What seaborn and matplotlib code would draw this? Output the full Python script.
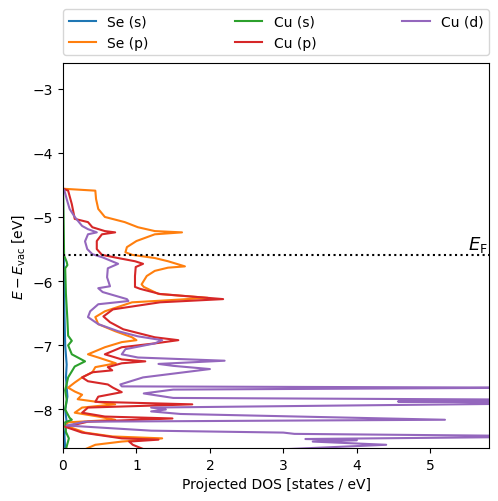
import matplotlib
matplotlib.use('Agg')
import matplotlib.pyplot as plt
import seaborn as sns
import numpy as np
import pandas as pd

# energies (eV vs vacuum) and projected DOS for each orbital
se_s_E = [-4.56, -5.5, -5.6, -6.0, -6.5, -7.0, -7.3, -7.5, -7.8, -8.0, -8.2, -8.4, -8.62]
se_s_dos = [0.0, 0.0, 0.01, 0.015, 0.02, 0.03, 0.05, 0.04, 0.06, 0.03, 0.05, 0.02, 0.03]

se_p_E = [-4.56, -4.59, -4.72, -4.875, -5.0, -5.08, -5.16, -5.22, -5.24, -5.27, -5.375,
          -5.47, -5.55, -5.59, -5.64, -5.69, -5.77, -5.79, -5.84, -5.92, -6.05, -6.09,
          -6.2, -6.26, -6.30, -6.33, -6.47, -6.56, -6.67, -6.78, -6.875, -6.92, -6.95,
          -7.03, -7.14, -7.19, -7.28, -7.34, -7.42, -7.5, -7.58, -7.66, -7.72, -7.77,
          -7.84, -7.92, -7.97, -8.05, -8.11, -8.16, -8.20, -8.25, -8.36, -8.42, -8.45,
          -8.5, -8.55, -8.62]
se_p_dos = [0.0, 0.44, 0.45, 0.48, 0.57, 0.84, 1.02, 1.25, 1.62, 1.25, 1.0,
            0.87, 0.85, 0.94, 1.25, 1.43, 1.66, 1.43, 1.25, 1.14, 1.07, 1.1,
            1.3, 1.97, 1.4, 0.94, 0.57, 0.44, 0.48, 0.71, 0.94, 1.0, 0.80,
            0.57, 0.34, 0.48, 0.72, 0.44, 0.40, 0.26, 0.16, 0.07, 0.16, 0.26,
            0.2, 0.71, 0.26, 0.16, 0.48, 0.71, 0.07, 0.03, 0.30, 0.67, 1.35,
            0.80, 0.44, 0.30]

cu_s_E = [-4.56, -4.8, -5.2, -5.6, -5.7, -5.75, -5.8, -6.2, -6.6, -6.85, -6.93, -7.0,
          -7.14, -7.25, -7.33, -7.5, -7.7, -7.85, -8.0, -8.13, -8.16, -8.2, -8.35,
          -8.45, -8.62]
cu_s_dos = [0.0, 0.005, 0.01, 0.015, 0.05, 0.06, 0.03, 0.04, 0.06, 0.07, 0.12, 0.07,
            0.12, 0.3, 0.16, 0.07, 0.03, 0.05, 0.03, 0.09, 0.12, 0.03, 0.04,
            0.08, 0.04]

cu_p_E = [-4.56, -4.59, -4.80, -5.03, -5.08, -5.16, -5.22, -5.24, -5.27, -5.375, -5.5,
          -5.59, -5.64, -5.69, -5.73, -5.78, -5.92, -6.09, -6.12, -6.2, -6.28, -6.33,
          -6.44, -6.55, -6.64, -6.75, -6.875, -6.92, -6.97, -7.03, -7.14, -7.22, -7.25,
          -7.28, -7.34, -7.39, -7.42, -7.5, -7.56, -7.61, -7.66, -7.73, -7.80, -7.88,
          -7.92, -7.97, -8.05, -8.11, -8.14, -8.19, -8.27, -8.36, -8.45, -8.47, -8.5,
          -8.55, -8.62]
cu_p_dos = [0.0, 0.07, 0.12, 0.16, 0.34, 0.40, 0.57, 0.71, 0.53, 0.46, 0.46,
            0.53, 0.75, 0.98, 1.09, 0.99, 0.98, 0.98, 1.05, 1.32, 2.18, 1.32,
            0.68, 0.55, 0.64, 0.82, 1.25, 1.57, 1.25, 0.80, 0.57, 0.80, 1.12,
            0.80, 0.61, 0.67, 0.40, 0.26, 0.34, 0.61, 0.68, 0.80, 0.48, 0.44,
            1.76, 0.34, 0.26, 0.57, 1.49, 0.34, 0.03, 0.26, 0.80, 1.3, 0.9,
            0.95, 1.1]

cu_d_E = [-4.56, -4.59, -4.72, -4.875, -5.0, -5.14, -5.19, -5.24, -5.27, -5.38, -5.5,
          -5.58, -5.63, -5.73, -5.8, -5.94, -6.08, -6.11, -6.17, -6.28, -6.31, -6.36,
          -6.47, -6.56, -6.67, -6.78, -6.86, -6.92, -6.97, -7.06, -7.14, -7.19, -7.24,
          -7.29, -7.32, -7.37, -7.5, -7.61, -7.64, -7.66, -7.69, -7.75, -7.82, -7.85,
          -7.875, -7.90, -7.97, -8.0, -8.03, -8.07, -8.16, -8.19, -8.25, -8.33, -8.36,
          -8.38, -8.42, -8.46, -8.48, -8.50, -8.55, -8.62]
cu_d_dos = [0.0, 0.02, 0.05, 0.09, 0.16, 0.26, 0.34, 0.46, 0.34, 0.30, 0.33,
            0.40, 0.54, 0.75, 0.61, 0.60, 0.64, 0.48, 0.54, 0.87, 0.89, 0.48,
            0.37, 0.34, 0.48, 0.75, 1.02, 1.35, 1.25, 0.85, 0.80, 1.02, 2.2,
            1.3, 1.5, 2.0, 1.09, 0.78, 0.8, 6.5, 1.5, 1.1, 1.5, 7.0,
            4.56, 7.0, 1.2, 1.4, 1.2, 1.6, 5.2, 0.3, 0.05, 1.2, 3.0,
            3.15, 7.0, 3.3, 4.0, 3.4, 4.4, 3.0]

labels = ['Se (s)', 'Se (p)', 'Cu (s)', 'Cu (p)', 'Cu (d)']
e_fermi = -5.59

curves = [(se_s_E, se_s_dos), (se_p_E, se_p_dos), (cu_s_E, cu_s_dos),
          (cu_p_E, cu_p_dos), (cu_d_E, cu_d_dos)]
colors = sns.color_palette('tab10', 5)

fig = plt.figure(figsize=(4.98, 5.02), dpi=100)
ax = fig.add_axes([0.1265, 0.1056, 0.8555, 0.767])

for (E, dos), lab, c in zip(curves, labels, colors):
    df = pd.DataFrame({'E': E, 'dos': dos})
    sns.lineplot(data=df, x='dos', y='E', sort=False, estimator=None,
                 color=c, label=lab, ax=ax, lw=1.5)

ax.axhline(e_fermi, color='k', ls=':', lw=1.5)
ax.text(5.78, e_fermi + 0.02, r'$E_\mathrm{F}$', ha='right', va='bottom', fontsize=13)

ax.set_xlim(0, 5.8)
ax.set_ylim(-8.6, -2.6)
ax.set_xlabel('Projected DOS [states / eV]')
ax.set_ylabel(r'$E - E_\mathrm{vac}$ [eV]')
ax.legend(bbox_to_anchor=(0, 1.02, 1, 0.2), loc='lower left', mode='expand',
          ncol=3, borderaxespad=0)

fig.savefig('out.png', dpi=100)
